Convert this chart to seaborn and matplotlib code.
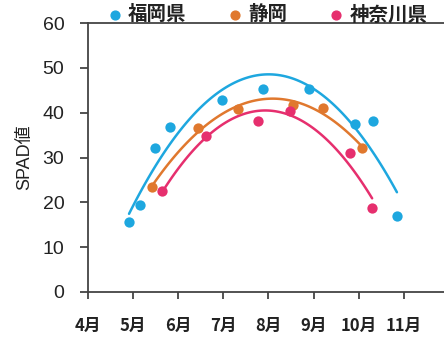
import numpy as np
import pandas as pd
import matplotlib
matplotlib.use("Agg")
import matplotlib.pyplot as plt
import seaborn as sns

sns.set_theme(style="ticks")
plt.rcParams['font.family'] = ['Liberation Sans', 'Noto Sans CJK JP', 'DejaVu Sans']

# Measurement month (fractional) and SPAD readings per region
fukuoka_month = [4.91, 5.15, 5.49, 5.82, 6.97, 7.88, 8.90, 9.92, 10.32, 10.85]
fukuoka_spad = [15.6, 19.4, 32.1, 36.8, 42.9, 45.3, 45.3, 37.5, 38.2, 17.0]

shizuoka_month = [5.42, 6.44, 7.33, 8.55, 9.21, 10.07]
shizuoka_spad = [23.4, 36.6, 40.8, 41.8, 41.0, 32.1]

kanagawa_month = [5.64, 6.62, 7.77, 8.48, 9.81, 10.30]
kanagawa_spad = [22.5, 34.8, 38.2, 40.4, 31.0, 18.7]

series_names = ["福岡県", "静岡", "神奈川県"]
series_colors = ["#1ea7df", "#e0782e", "#e62f6e"]

month_ticks = [4, 5, 6, 7, 8, 9, 10, 11]
month_labels = ["4月", "5月", "6月", "7月", "8月", "9月", "10月", "11月"]
spad_ticks = [0, 10, 20, 30, 40, 50, 60]

text_color = "#222222"

frames = []
for name, m, v in zip(series_names,
                      [fukuoka_month, shizuoka_month, kanagawa_month],
                      [fukuoka_spad, shizuoka_spad, kanagawa_spad]):
    frames.append(pd.DataFrame({"month": m, "spad": v, "region": name}))
df = pd.concat(frames, ignore_index=True)

fig = plt.figure(figsize=(4.44, 3.43), dpi=100)
ax = fig.add_axes([88 / 444, 1 - 292 / 343, 1 - 88 / 444, (292 - 23) / 343])

# quadratic trend per region, with the measured points on top
for name, color in zip(series_names, series_colors):
    sub = df[df["region"] == name]
    sns.regplot(data=sub, x="month", y="spad", order=2, ci=None, ax=ax,
                color=color, truncate=True,
                scatter_kws=dict(s=55, alpha=1, linewidths=0, zorder=3),
                line_kws=dict(lw=1.8, zorder=2))
    ax.scatter([], [], s=40, color=color, label=name)

ax.set_xlim(4, 4 + (444 - 88) / 45.1)
ax.set_ylim(0, 60)
ax.set_xticks(month_ticks)
ax.set_xticklabels(month_labels, family=['Noto Sans CJK JP'], fontweight='bold',
                   fontsize=12, color=text_color)
ax.set_yticks(spad_ticks)
ax.tick_params(axis='y', labelsize=14, colors="#444444", labelcolor=text_color,
               length=6, width=1.3, pad=11)
ax.tick_params(axis='x', length=5, width=1.3, pad=13, colors="#444444",
               labelcolor=text_color)
ax.set_xlabel("")
ax.set_ylabel("SPAD値", fontsize=13, color=text_color, labelpad=7)

for side in ["left", "bottom", "top"]:
    ax.spines[side].set_color("#444444")
    ax.spines[side].set_linewidth(1.3)
ax.spines["right"].set_visible(False)
ax.set_facecolor("white")

leg = fig.legend(loc="upper left", bbox_to_anchor=(97 / 444, 1.008), ncol=3,
                 frameon=False, handletextpad=0.2, columnspacing=2.0,
                 prop=dict(family='Noto Sans CJK JP', weight='bold', size=14),
                 borderaxespad=0, handlelength=1.0)
for t in leg.get_texts():
    t.set_color(text_color)

fig.savefig("out.png", dpi=100, facecolor="white")
